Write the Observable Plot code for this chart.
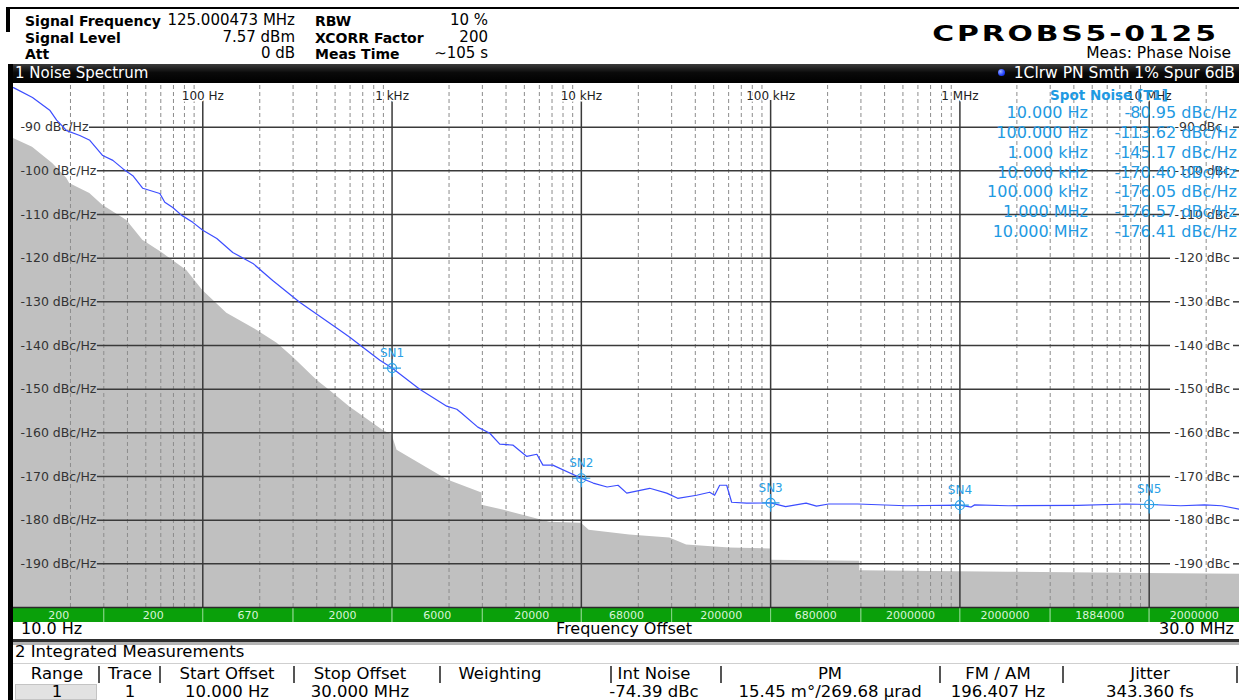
<!DOCTYPE html>
<html><head><meta charset="utf-8">
<script src="https://cdn.jsdelivr.net/npm/d3@7"></script>
<script src="https://cdn.jsdelivr.net/npm/@observablehq/plot@0.6"></script>
<style>
html,body{margin:0;padding:0;background:#fff;}
#wrap{position:relative;width:1239px;height:700px;overflow:hidden;background:#fff;font-family:'DejaVu Sans';}
#wrap div{position:absolute;white-space:nowrap;}
</style></head>
<body><div id="wrap"></div>
<script>
// ---------------- data ----------------
const traceFreq = [10,12.6,15.6,16.9,19.1,22.4,25.3,29.6,33.5,37.8,42.7,48.2,59.3,63,69.4,77.4,88.5,100,118.6,144,184,234,325,530,598,676,862,1000,1400,1945,2198,2333,2837,3283,3707,4345,5150,5820,6266,7066,10000,11550,13680,15630,17370,22970,28250,32290,40640,47640,50590,53810,58590,62240,74700,100000,120000,154000,174800,202600,288400,517300,1e6,1.147e6,1.197e6,1.81e6,4.19e6,7.52e6,1e7,1.466e7,1.963e7,2.416e7,3e7];
const traceDb = [-80.95,-83.2,-86.2,-88.4,-90.8,-91.9,-93.0,-96.5,-97.6,-99.5,-101.1,-104.0,-105.2,-107.2,-108.4,-110.2,-111.8,-113.62,-115.5,-118.7,-121.2,-125.1,-130.1,-136.5,-138.1,-139.9,-143.4,-145.17,-150.0,-153.9,-154.6,-155.5,-158.7,-160.1,-162.6,-162.8,-165.4,-164.9,-167.4,-167.4,-170.40,-171.5,-172.4,-172.0,-173.8,-172.7,-173.8,-175.0,-174.3,-173.6,-174.3,-172.0,-172.0,-175.9,-176.1,-176.05,-176.9,-176.1,-176.8,-176.3,-176.3,-176.7,-176.57,-177.0,-176.5,-176.7,-176.6,-176.3,-176.41,-176.7,-176.5,-176.7,-177.5];

const floorFreq = [10,12.6,16.1,19.1,19.8,25.3,29.6,39.7,48.2,61.5,82.3,100,134,193,247,300,402,469,598,893,1000,1063,1968,2985,2985,3853,6810,10000,11000,18010,29300,36000,60800,100000,100000,295700,295700,1.81e6,9.7e6,3e7];
const floorDb = [-92.6,-94.6,-98.3,-101.7,-102.9,-105.2,-107.9,-111.4,-115.9,-118.9,-122.8,-127.4,-132.6,-136.5,-139.5,-142.7,-148.0,-150.3,-154.1,-159.4,-160.5,-164.0,-170.8,-173.8,-176.6,-177.7,-180.5,-180.7,-182.3,-183.4,-184.1,-185.7,-186.4,-186.6,-189.2,-189.4,-191.6,-191.9,-192.2,-192.4];

const spotFreq = [10,100,1e3,1e4,1e5,1e6,1e7];
const spotFreqLabels = ["10.000 Hz","100.000 Hz","1.000 kHz","10.000 kHz","100.000 kHz","1.000 MHz","10.000 MHz"];
const spotDb = [-80.95,-113.62,-145.17,-170.40,-176.05,-176.57,-176.41];
const markerNames = ["","","SN1","SN2","SN3","SN4","SN5"];

const gridDb = [-90,-100,-110,-120,-130,-140,-150,-160,-170,-180,-190];
const decadeFreq = [100,1e3,1e4,1e5,1e6,1e7];
const decadeLabels = ["100 Hz","1 kHz","10 kHz","100 kHz","1 MHz","10 MHz"];
const minorMult = [2,3,4,5,6,7,8,9];
const decadeBase = [10,100,1e3,1e4,1e5,1e6,1e7];

const segEdges = [10,30,100,300,1e3,3e3,1e4,3e4,1e5,3e5,1e6,3e6,1e7,3e7];
const segLabels = ["200","200","670","2000","6000","20000","68000","200000","680000","2000000","2000000","1884000","2000000"];

const hdrLabels1 = ["Signal Frequency","Signal Level","Att"];
const hdrValues1 = ["125.000473 MHz","7.57 dBm","0 dB"];
const hdrLabels2 = ["RBW","XCORR Factor","Meas Time"];
const hdrValues2 = ["10 %","200","∼105 s"];

const tableCols = ["Range","Trace","Start Offset","Stop Offset","Weighting","Int Noise","PM","FM / AM","Jitter"];
const tableRow = ["1","1","10.000 Hz","30.000 MHz","","-74.39 dBc","15.45 m°/269.68 µrad","196.407 Hz","343.360 fs"];

// ---------------- layout helpers ----------------
const wrap = document.getElementById("wrap");
function box(x,y,w,h,bg,extra=""){const d=document.createElement("div");d.style.cssText=`left:${x}px;top:${y}px;width:${w}px;height:${h}px;background:${bg};${extra}`;wrap.appendChild(d);return d;}
function txt(str,x,base,o={}){
  const size=o.size||15, fam=o.family||"DejaVu Sans";
  const d=document.createElement("div");d.textContent=str;
  d.style.cssText=`font-family:'${fam}';font-size:${size}px;line-height:${size}px;font-weight:${o.weight||"normal"};color:${o.color||"#000"};top:${base-0.846*size}px;${o.extra||""}`;
  if(o.anchor==="end"){d.style.right=(1239-x)+"px";}
  else if(o.anchor==="middle"){d.style.left=x+"px";d.style.transform="translateX(-50%)";}
  else d.style.left=x+"px";
  wrap.appendChild(d);return d;
}

// header frame
box(6,7,1233,2,"#000");
box(6,7,4,25,"#000");
const rowBase=[26,42.5,59];
hdrLabels1.forEach((s,i)=>txt(s,25,rowBase[i],{size:14,weight:"bold"}));
hdrValues1.forEach((s,i)=>txt(s,295,rowBase[i],{size:15,anchor:"end"}));
hdrLabels2.forEach((s,i)=>txt(s,315,rowBase[i],{size:14,weight:"bold"}));
hdrValues2.forEach((s,i)=>txt(s,488,rowBase[i],{size:15,anchor:"end"}));
txt("CPROBS5-0125",1219,41.5,{size:21,weight:"bold",anchor:"end",extra:"letter-spacing:2px;transform:scaleX(1.42);transform-origin:right center;"});
txt("Meas: Phase Noise",1231,59,{size:15.5,anchor:"end"});

// black title bar
box(8,64,1231,19,"linear-gradient(to bottom,#3c3c3c 0%,#0a0a0a 45%,#000 100%)");
txt("1 Noise Spectrum",15,79,{size:15,color:"#fff"});
box(998,69,7,7,"radial-gradient(circle at 35% 35%,#9fb4ff,#2040ff 60%,#1030c0)","border-radius:50%;");
txt("1Clrw PN Smth 1% Spur 6dB",1235,79,{size:15.5,color:"#fff",anchor:"end"});

// ---------------- plot ----------------
const W=1226, H=539, frameH=524;
const dbPerPx = 120/frameH;
const xs = d3.scaleLog().domain([10,3e7]).range([0,W]);
const yAtPx = px => -80 - px*dbPerPx;
const trace = traceFreq.map((f,i)=>({f,v:traceDb[i]}));
const floor = floorFreq.map((f,i)=>({f,v:floorDb[i]}));
const minorFreq = decadeBase.flatMap(b=>minorMult.map(m=>m*b)).filter(f=>f<3e7);
const markers = spotFreq.map((f,i)=>({f,v:spotDb[i],name:markerNames[i]})).filter(d=>d.name);
const segs = segLabels.map((s,i)=>({a:segEdges[i],b:segEdges[i+1],label:s}));
const greenBottom = -200 - 15*dbPerPx;
const greenMid = -200 - 7.5*dbPerPx;

const ctx = document.createElement("canvas").getContext("2d");
ctx.font = "12.5px 'DejaVu Sans'";
const leftLabel = d => `${d} dBc/Hz`;
const rightLabel = d => `${d} dBc`;
const gridCol = "#3a3a3a";

const plot = Plot.plot({
  width: W, height: H,
  marginTop:0, marginRight:0, marginBottom:15, marginLeft:0,
  x:{type:"log", domain:[10,3e7], axis:null},
  y:{domain:[-200,-80], axis:null},
  style:{background:"transparent", fontFamily:"DejaVu Sans", fontSize:"12.5px", overflow:"visible"},
  marks:[
    Plot.areaY(floor,{x:"f", y1:-200, y2:"v", fill:"#c0c0c0"}),
    Plot.ruleX(minorFreq,{x:d=>d, y1:-200, y2:-80, stroke:"#8c8c8c", strokeWidth:1, strokeDasharray:"4,3"}),
    Plot.ruleX(decadeFreq,{x:d=>d, y1:yAtPx(17), y2:-200, stroke:gridCol, strokeWidth:1.5}),
    Plot.ruleY(gridDb,{y:d=>d, x1:d=>xs.invert(7+ctx.measureText(leftLabel(d)).width+1), x2:xs.invert(1170-13), stroke:gridCol, strokeWidth:1.5}),
    Plot.ruleY(gridDb,{y:d=>d, x1:xs.invert(1233-13), x2:3e7, stroke:gridCol, strokeWidth:1.5}),
    Plot.text(gridDb,{y:d=>d, frameAnchor:"left", dx:7, textAnchor:"start", text:leftLabel, fill:"#333", fontSize:12.5}),
    Plot.text(gridDb,{y:d=>d, frameAnchor:"right", dx:-(1239-1174), textAnchor:"start", text:rightLabel, fill:"#333", fontSize:12.5}),
    Plot.text(decadeFreq,{x:d=>d, frameAnchor:"top", dy:8, text:(d,i)=>decadeLabels[i], fill:"#222", stroke:"#fff", strokeWidth:3, fontSize:12}),
    Plot.line(trace,{x:"f", y:"v", stroke:"#3c4dff", strokeWidth:1.2}),
    Plot.dot(markers,{x:"f", y:"v", r:4.5, stroke:"#2a9fe6", strokeWidth:1.2, fill:"none"}),
    Plot.dot(markers,{x:"f", y:"v", r:5.8, symbol:"plus", stroke:"#2a9fe6", strokeWidth:1.2}),
    Plot.text(markers,{x:"f", y:"v", text:"name", dy:-15, fill:"#2a9fe6", fontSize:12}),
    Plot.rect(segs,{x1:"a", x2:"b", y1:-200, y2:greenBottom, fill:"#0aa00a"}),
    Plot.ruleX(segEdges.slice(1,-1),{x:d=>d, y1:-200, y2:greenBottom, stroke:"#8fd88f", strokeWidth:1}),
    Plot.ruleY([-200],{stroke:"#2a2a2a", strokeWidth:1.5}),
    Plot.text(segs,{x:d=>Math.sqrt(d.a*d.b), y:greenMid, text:"label", fill:"#d8f4d8", fontSize:11})
  ]
});
const holder = document.createElement("div");
holder.style.cssText="left:13px;top:83px;width:1226px;height:539px;";
holder.appendChild(plot);
wrap.appendChild(holder);

// left frame border
box(8,64,5,636,"#000");

// spot noise table overlay
const spotCol="#1f9ae2";
txt("Spot Noise [T1]",1109,100,{size:13.5,weight:"bold",color:spotCol,anchor:"middle"});
spotFreqLabels.forEach((s,i)=>{
  const cy=113.3+i*19.73;
  txt(s,1088,cy+5.7,{size:16,color:spotCol,anchor:"end"});
  txt(`${spotDb[i].toFixed(2)} dBc/Hz`,1237,cy+5.7,{size:16,color:spotCol,anchor:"end"});
});

// bottom: frequency axis row
txt("10.0 Hz",21,635,{size:16});
txt("Frequency Offset",624,635,{size:16,anchor:"middle"});
txt("30.0 MHz",1234,635,{size:16,anchor:"end"});
box(13,639,1226,3,"#2e2e2e");
box(13,642,1226,3,"#b4b4b4");

// integrated measurements
txt("2 Integrated Measurements",15,658,{size:16.5});
box(13,663,1226,1,"#cfcfcf");
const colCenters=[57,130,227,360,500,654,830,998,1150];
const colSeps=[99,160,294,440,611,721,940,1063,1237];
colSeps.forEach(x=>box(x-1,666,2,17,"#555"));
tableCols.forEach((s,i)=>txt(s,colCenters[i],680,{size:16.5,anchor:"middle"}));
box(15,684,82,16,"#e2e2e2","box-sizing:border-box;border:1px solid #c4c4c4;");
tableRow.forEach((s,i)=>{ if(s) txt(s,colCenters[i],698,{size:16.5,anchor:"middle"}); });
</script>
</body></html>
